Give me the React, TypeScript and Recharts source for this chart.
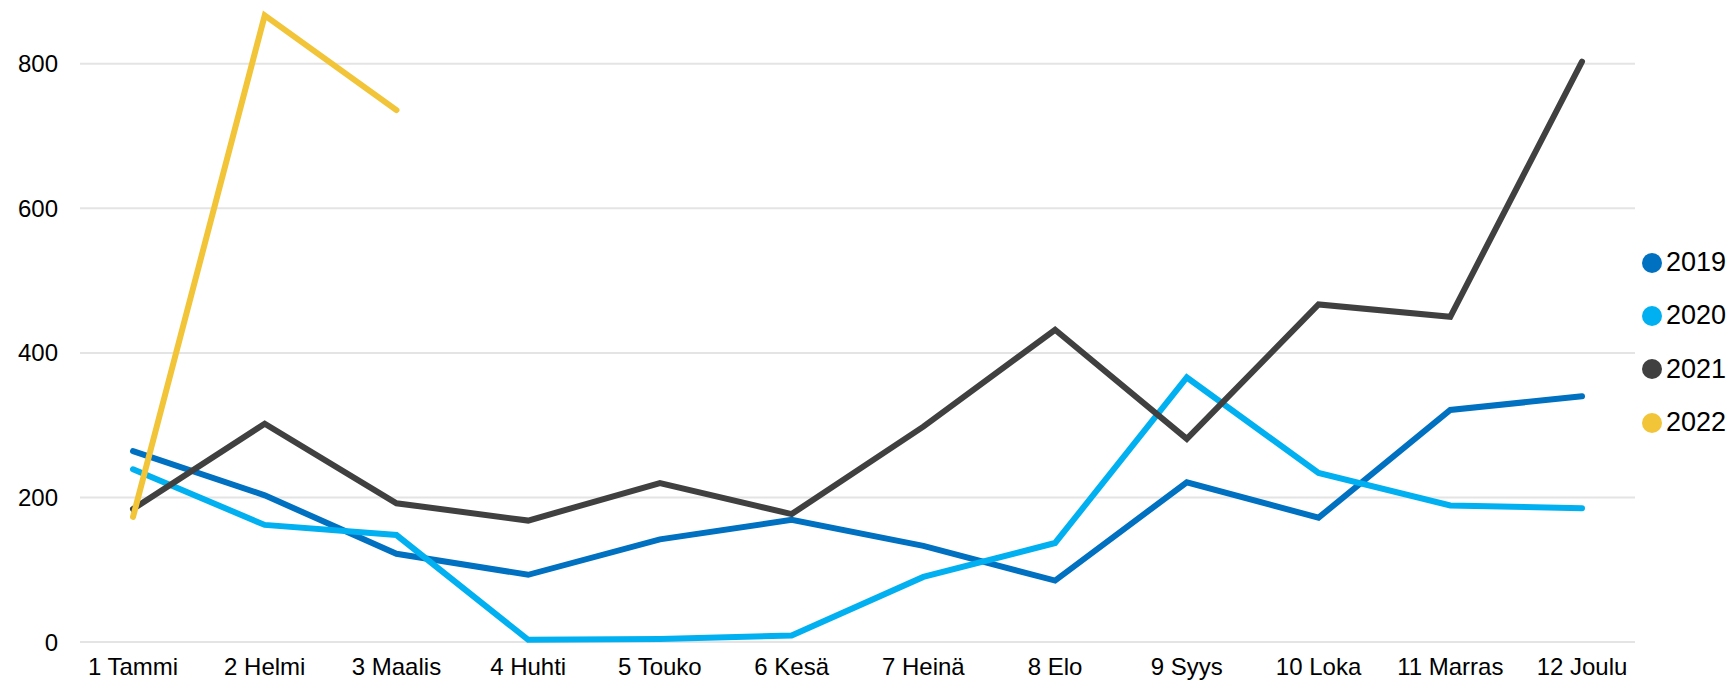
import React from 'react';
import { LineChart, Line, XAxis, YAxis, CartesianGrid } from 'recharts';

const MONTHS = [
  '1 Tammi', '2 Helmi', '3 Maalis', '4 Huhti', '5 Touko', '6 Kesä',
  '7 Heinä', '8 Elo', '9 Syys', '10 Loka', '11 Marras', '12 Joulu',
];
const Y_TICKS = [0, 200, 400, 600, 800];

const V2019 = [264, 203, 122, 93, 142, 169, 133, 85, 221, 172, 321, 340];
const V2020 = [239, 162, 148, 3, 4, 9, 90, 137, 366, 234, 189, 185];
const V2021 = [184, 302, 192, 168, 220, 177, 298, 432, 281, 467, 450, 803];
const V2022: (number | null)[] = [173, 867, 736, null, null, null, null, null, null, null, null, null];

const SERIES = [
  { key: 'y2019', name: '2019', color: '#0070C0' },
  { key: 'y2020', name: '2020', color: '#00B0F0' },
  { key: 'y2021', name: '2021', color: '#404040' },
  { key: 'y2022', name: '2022', color: '#F2C438' },
];

const data = MONTHS.map((month, i) => ({
  month,
  y2019: V2019[i],
  y2020: V2020[i],
  y2021: V2021[i],
  y2022: V2022[i],
}));

const FONT = '"Liberation Sans", Arial, sans-serif';

function SideLegend() {
  return (
    <div style={{ position: 'absolute', left: 1642, top: 236, fontFamily: FONT }}>
      {SERIES.map((s) => (
        <div key={s.key} style={{ display: 'flex', alignItems: 'center', height: 53.3 }}>
          <span style={{
            display: 'inline-block', width: 20, height: 20, borderRadius: '50%',
            backgroundColor: s.color, marginRight: 4,
          }} />
          <span style={{ fontSize: 27, color: '#000', lineHeight: 1 }}>{s.name}</span>
        </div>
      ))}
    </div>
  );
}

export default function App() {
  return (
    <div style={{ position: 'absolute', left: 0, top: 0, width: 1735, height: 680, background: '#fff' }}>
      <LineChart width={1735} height={680} data={data} margin={{ top: 6, right: 100, left: 0, bottom: 0 }}>
        <CartesianGrid stroke="#e4e4e4" strokeWidth={2} vertical={false} horizontalValues={Y_TICKS} />
        <XAxis
          dataKey="month"
          axisLine={false}
          tickLine={false}
          tickMargin={10}
          height={38}
          padding={{ left: 53, right: 53 }}
          interval={0}
          tick={{ fill: '#000', fontSize: 24, fontFamily: FONT }}
        />
        <YAxis
          domain={[0, 880]}
          ticks={Y_TICKS}
          axisLine={false}
          tickLine={false}
          tickMargin={16}
          width={80}
          tick={{ fill: '#000', fontSize: 24, fontFamily: FONT }}
        />
        {SERIES.map((s) => (
          <Line
            key={s.key}
            type="linear"
            dataKey={s.key}
            name={s.name}
            stroke={s.color}
            strokeWidth={6}
            strokeLinecap="round"
            strokeLinejoin="miter"
            dot={false}
            activeDot={false}
            connectNulls={false}
            isAnimationActive={false}
          />
        ))}
      </LineChart>
      <SideLegend />
    </div>
  );
}
